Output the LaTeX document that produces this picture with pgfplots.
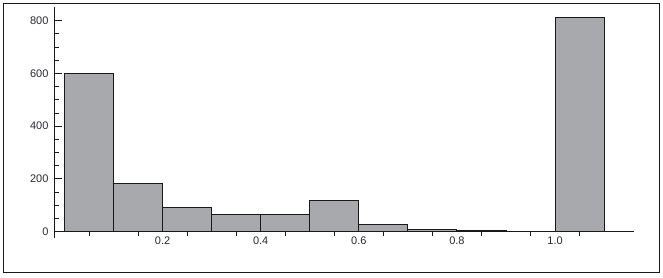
\documentclass[border=0pt]{standalone}
\usepackage{fontspec}
\setmainfont{Liberation Sans}
\usepackage{pgfplots}
\pgfplotsset{compat=1.18}
\definecolor{barfill}{RGB}{168,169,173}
\definecolor{axcol}{RGB}{25,25,25}
\definecolor{labcol}{RGB}{40,40,50}
\begin{document}
\begin{tikzpicture}[x=1bp,y=1bp]
\useasboundingbox (0,0) rectangle (663,277);
\draw[line width=1bp, axcol] (3,5) rectangle (659,273);
\begin{axis}[
  at={(54.5bp,39bp)}, anchor=south west,
  scale only axis, width=579.5bp, height=231bp,
  xmin=-0.0204, xmax=1.161, ymin=-24, ymax=852,
  axis y line*=left, axis x line*=middle,
  axis line style={axcol, line width=1bp},
  tick style={axcol, line width=0.9bp},
  tick align=inside,
  major tick length=7bp, minor tick length=4.5bp,
  xtick={0.2,0.4,0.6,0.8,1.0},
  xticklabels={0.2,0.4,0.6,0.8,1.0},
  xtick style={draw=none},
  extra x ticks={0.05,0.15,0.25,0.35,0.45,0.55,0.65,0.75,0.85,0.95,1.05},
  extra x tick labels={},
  extra x tick style={tick align=outside, major tick length=4.5bp, xtick style={draw=axcol}},
  ytick={0,200,400,600,800},
  minor y tick num=3,
  /pgf/number format/assume math mode=true,
  ticklabel style={font=\fontsize{11bp}{13bp}\selectfont, text=labcol},
  yticklabel style={xshift=-2.5bp},
  xticklabel style={yshift=-1.5bp},
]
\addplot[ybar interval, fill=barfill, draw=axcol, line width=0.9bp] coordinates {
(0,600) (0.1,182) (0.2,93) (0.3,64) (0.4,64) (0.5,117) (0.6,29) (0.7,10) (0.8,5) (0.9,2) (1.0,812) (1.1,812)
};
\end{axis}
\end{tikzpicture}
\end{document}
